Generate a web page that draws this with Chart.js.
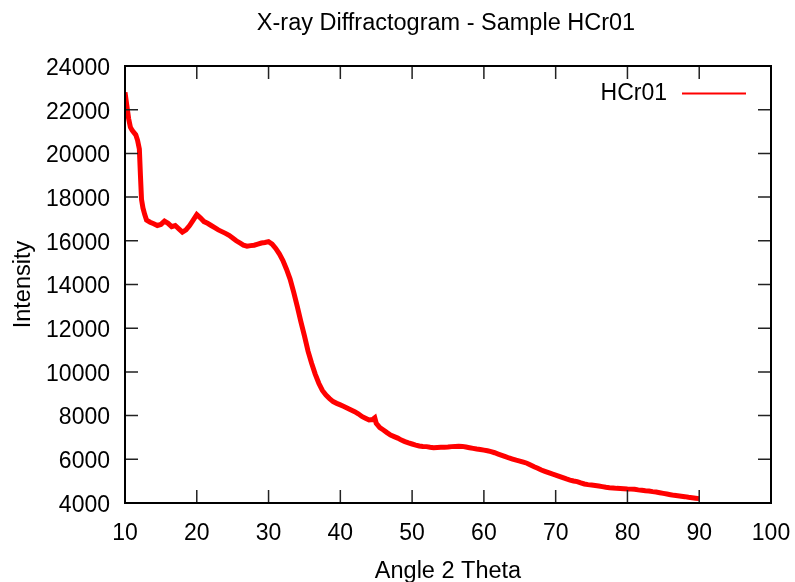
<!DOCTYPE html>
<html>
<head>
<meta charset="utf-8">
<title>X-ray Diffractogram - Sample HCr01</title>
<script src="https://cdn.jsdelivr.net/npm/chart.js@4/dist/chart.umd.min.js"></script>
<style>
  body { margin: 0; background: #fff; }
  canvas { display: block; }
</style>
</head>
<body>
<canvas id="myChart" width="795" height="582"></canvas>
<script>
// values (angle 2 theta -> intensity)
var angle = [
  10, 10.25, 10.5, 10.75, 11, 11.25, 11.5, 11.75, 12, 12.15, 12.3, 12.5, 12.75, 13,
  13.5, 14, 14.5, 15, 15.5, 16, 16.5, 17, 17.5, 18, 18.5, 19, 19.5, 20, 20.5, 21,
  21.5, 22, 22.5, 23, 23.5, 24, 24.5, 25, 25.5, 26, 26.5, 27, 27.5, 28, 28.5, 29,
  29.5, 30, 30.5, 31, 31.5, 32, 32.5, 33, 33.5, 34, 34.5, 35, 35.5, 36, 36.5, 37,
  37.5, 38, 38.5, 39, 39.5, 40, 40.5, 41, 41.5, 42, 42.5, 43, 43.5, 44, 44.5, 44.8,
  45, 45.5, 46, 46.5, 47, 47.5, 48, 48.5, 49, 49.5, 50, 50.5, 51, 51.5, 52, 52.5,
  53, 53.5, 54, 54.5, 55, 55.5, 56, 56.5, 57, 57.5, 58, 58.5, 59, 59.5, 60, 60.5,
  61, 61.5, 62, 62.5, 63, 63.5, 64, 64.5, 65, 65.5, 66, 66.5, 67, 67.5, 68, 68.5,
  69, 69.5, 70, 70.5, 71, 71.5, 72, 72.5, 73, 73.5, 74, 74.5, 75, 75.5, 76, 76.5,
  77, 77.5, 78, 78.5, 79, 79.5, 80, 80.5, 81, 81.5, 82, 82.5, 83, 83.5, 84, 84.5,
  85, 85.5, 86, 86.5, 87, 87.5, 88, 88.5, 89, 89.5, 90
];
var intensity = [
  22800, 22200, 21600, 21200, 21050, 20950, 20850, 20600, 20200, 19000, 17900, 17500, 17200, 16950,
  16850, 16780, 16700, 16750, 16900, 16800, 16650, 16700, 16550, 16400, 16500, 16700, 16950, 17200, 17050, 16880,
  16800, 16700, 16600, 16500, 16420, 16340, 16250, 16130, 16000, 15900, 15800, 15750, 15780, 15800, 15850, 15900,
  15920, 15960, 15850, 15650, 15400, 15100, 14700, 14250, 13650, 13000, 12300, 11650, 10950, 10400, 9900, 9480,
  9150, 8940, 8780, 8640, 8560, 8490, 8420, 8340, 8260, 8180, 8080, 7960, 7880, 7800, 7820, 7900,
  7650, 7450, 7340, 7220, 7110, 7040, 6970, 6880, 6810, 6750, 6700, 6650, 6610, 6590, 6580, 6550,
  6530, 6540, 6550, 6550, 6560, 6580, 6590, 6600, 6590, 6560, 6530, 6500, 6470, 6450, 6420, 6390,
  6350, 6300, 6240, 6180, 6120, 6060, 6010, 5960, 5920, 5870, 5820, 5740, 5660, 5590, 5510, 5450,
  5390, 5330, 5280, 5220, 5160, 5100, 5050, 5010, 4980, 4920, 4870, 4840, 4820, 4800, 4780, 4750,
  4720, 4700, 4690, 4670, 4660, 4650, 4640, 4635, 4630, 4600, 4580, 4560, 4550, 4520, 4500, 4470,
  4440, 4410, 4380, 4350, 4330, 4310, 4290, 4260, 4240, 4220, 4200
];
var seriesName = "HCr01";
var chartTitle = "X-ray Diffractogram - Sample HCr01";

var familia = "'Liberation Sans', Arial, sans-serif";
var fonteTicks = { family: familia, size: 23 };
var fonteTitulo = { family: familia, size: 23.5 };

// gnuplot style: box, inward ticks on all sides, title and key drawn here
var moldura = {
  id: "moldura",
  afterDraw: function (chart) {
    var ctx = chart.ctx;
    var a = chart.chartArea;
    var x = chart.scales.x, y = chart.scales.y;
    var tam = 13;
    ctx.save();
    ctx.strokeStyle = "#222";
    ctx.lineWidth = 1.5;
    ctx.beginPath();
    x.ticks.forEach(function (t) {
      var px = x.getPixelForValue(t.value);
      ctx.moveTo(px, a.bottom); ctx.lineTo(px, a.bottom - tam);
      ctx.moveTo(px, a.top); ctx.lineTo(px, a.top + tam);
    });
    y.ticks.forEach(function (t) {
      var py = y.getPixelForValue(t.value);
      ctx.moveTo(a.left, py); ctx.lineTo(a.left + tam, py);
      ctx.moveTo(a.right, py); ctx.lineTo(a.right - tam, py);
    });
    ctx.stroke();
    ctx.strokeStyle = "#000";
    ctx.lineWidth = 2;
    ctx.strokeRect(a.left, a.top, a.right - a.left, a.bottom - a.top);

    ctx.fillStyle = "#000";
    ctx.font = fonteTitulo.size + "px " + familia;
    ctx.textBaseline = "middle";
    ctx.textAlign = "center";
    ctx.fillText(chartTitle, (a.left + a.right) / 2 - 2, 24);

    // key, top right inside the box
    ctx.font = fonteTicks.size + "px " + familia;
    ctx.textAlign = "right";
    ctx.fillText(seriesName, a.right - 104, a.top + 28);
    ctx.strokeStyle = "rgb(255, 0, 0)";
    ctx.lineWidth = 2;
    ctx.beginPath();
    ctx.moveTo(a.right - 89, a.top + 27.5);
    ctx.lineTo(a.right - 25, a.top + 27.5);
    ctx.stroke();
    ctx.restore();
  }
};

var ctx = document.getElementById("myChart").getContext("2d");
var chart = new Chart(ctx, {
  type: "line",
  data: {
    datasets: [
      {
        label: seriesName,
        data: angle.map(function (v, i) { return { x: v, y: intensity[i] }; }),
        borderColor: "rgb(255, 0, 0)",
        backgroundColor: "rgb(255, 0, 0)",
        borderWidth: 5,
        pointRadius: 0,
        tension: 0
      }
    ]
  },
  options: {
    responsive: false,
    animation: false,
    layout: { padding: { top: 66, right: 24, left: 0, bottom: 0 } },
    plugins: {
      legend: { display: false },
      title: { display: false },
      tooltip: { enabled: false }
    },
    scales: {
      x: {
        type: "linear",
        min: 10,
        max: 100,
        grid: { display: false, drawTicks: false },
        border: { display: false },
        ticks: {
          stepSize: 10, color: "#000", font: fonteTicks, padding: 17, maxRotation: 0,
          callback: function (v) { return String(v); }
        },
        title: { display: true, text: "Angle 2 Theta", color: "#000", font: fonteTitulo, padding: { top: 0, bottom: -4 } },
        afterFit: function (s) { s.height = 79; s.paddingLeft = 0; s.paddingRight = 0; }
      },
      y: {
        min: 4000,
        max: 24000,
        grid: { display: false, drawTicks: false },
        border: { display: false },
        ticks: {
          stepSize: 2000, color: "#000", font: fonteTicks, padding: 15, labelOffset: 2.5,
          callback: function (v) { return String(v); }
        },
        title: { display: true, text: "Intensity", color: "#000", font: fonteTitulo, padding: { top: 9, bottom: 0 } },
        afterFit: function (s) { s.width = 125; s.paddingTop = 0; s.paddingBottom = 0; }
      }
    }
  },
  plugins: [moldura]
});
</script>
</body>
</html>
